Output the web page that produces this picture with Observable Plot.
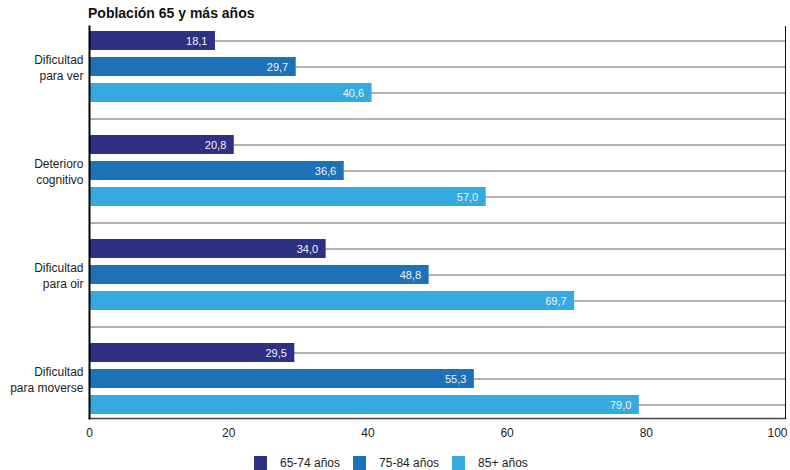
<!DOCTYPE html>
<html>
<head>
<meta charset="utf-8">
<script src="https://cdn.jsdelivr.net/npm/d3@7"></script>
<script src="https://cdn.jsdelivr.net/npm/@observablehq/plot@0.6"></script>
<style>
  body { margin: 0; background: #fff; font-family: "Liberation Sans", Arial, sans-serif; }
  #wrap { width: 790px; height: 470px; position: relative; overflow: hidden; }
  #title { height: 22px; box-sizing: border-box; padding: 5px 0 0 88px; font-size: 14px; font-weight: bold; line-height: 16px; color: #111; }
  #legend { display: flex; align-items: center; margin-left: 254px; padding-top: 8px; font-size: 12px; color: #222; }
  #legend .sw { width: 13px; height: 14px; margin-right: 13px; }
  #legend .lb { margin-right: 13px; }
  svg { display: block; }
</style>
</head>
<body>
<div id="wrap">
  <div id="title">Población 65 y más años</div>
  <div id="chart"></div>
  <div id="legend"></div>
</div>
<script>
const categories = ["Dificultad para ver", "Deterioro cognitivo", "Dificultad para oir", "Dificultad para moverse"];
const categoryLabels = ["Dificultad\npara ver", "Deterioro\ncognitivo", "Dificultad\npara oir", "Dificultad\npara moverse"];
const series = ["65-74 años", "75-84 años", "85+ años"];
const values6574 = [18.1, 20.8, 34.0, 29.5];
const values7584 = [29.7, 36.6, 48.8, 55.3];
const values85 = [40.6, 57.0, 69.7, 79.0];
const colors = ["#2e3084", "#1d71b8", "#36a9e1"];
const xTicks = [0, 20, 40, 60, 80];
const xLastTick = [100];

const seriesValues = [values6574, values7584, values85];
const rows = [];
const keys = [];
const labelByKey = new Map();
categories.forEach((c, ci) => {
  series.forEach((s, si) => {
    const key = c + "|" + s;
    keys.push(key);
    if (si === 1) labelByKey.set(key, categoryLabels[ci]);
    rows.push({key, category: c, series: s, value: seriesValues[si][ci]});
  });
  if (ci < categories.length - 1) keys.push(c + "|sep");
});

const fmt = v => v.toFixed(1).replace(".", ",");

const chart = Plot.plot({
  width: 790,
  height: 426,
  marginLeft: 89,
  marginRight: 5,
  marginTop: 4,
  marginBottom: 30,
  style: {fontFamily: "Liberation Sans, Arial, sans-serif", fontSize: "12px", color: "#222", background: "white"},
  x: {domain: [0, 100]},
  y: {type: "band", domain: keys, paddingInner: 0.27, paddingOuter: 0.135},
  color: {domain: series, range: colors},
  marks: [
    Plot.ruleY(keys, {y: d => d, stroke: "#999", strokeWidth: 1.5}),
    Plot.barX(rows, {x: "value", y: "key", fill: "series"}),
    Plot.text(rows, {x: "value", y: "key", text: d => fmt(d.value), textAnchor: "end", dx: -8, fill: "#f2f2f2", fontSize: 11}),
    Plot.frame({anchor: "bottom", stroke: "#444", strokeWidth: 1.5}),
    Plot.frame({anchor: "right", stroke: "#111", strokeWidth: 1}),
    Plot.frame({anchor: "left", stroke: "#000", strokeWidth: 2}),
    Plot.axisY({tickSize: 0, tickPadding: 6, fontSize: 12, fill: "#222", label: null, lineHeight: 1.35,
      tickFormat: k => labelByKey.get(k) || ""}),
    Plot.axisX(xTicks, {tickSize: 0, tickPadding: 10, fontSize: 12, fill: "#222", label: null}),
    Plot.axisX(xLastTick, {tickSize: 0, tickPadding: 10, fontSize: 12, fill: "#222", label: null, textAnchor: "end", dx: 2})
  ]
});
document.getElementById("chart").appendChild(chart);

const legend = document.getElementById("legend");
series.forEach((s, i) => {
  const sw = document.createElement("span");
  sw.className = "sw";
  sw.style.background = colors[i];
  const lb = document.createElement("span");
  lb.className = "lb";
  lb.textContent = s;
  legend.appendChild(sw);
  legend.appendChild(lb);
});
</script>
</body>
</html>
